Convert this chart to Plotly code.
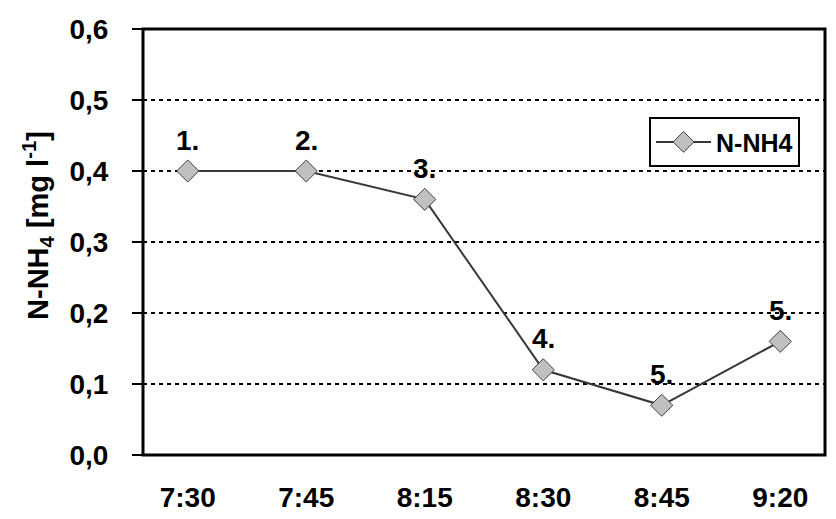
import plotly.graph_objects as go

categories = ["7:30", "7:45", "8:15", "8:30", "8:45", "9:20"]
values = [0.40, 0.40, 0.36, 0.12, 0.07, 0.16]
point_labels = ["1.", "2.", "3.", "4.", "5.", "5."]
y_ticks = [0.0, 0.1, 0.2, 0.3, 0.4, 0.5, 0.6]
y_ticklabels = ["0,0", "0,1", "0,2", "0,3", "0,4", "0,5", "0,6"]
series_name = "N-NH4"
y_title = "N-NH<sub>4</sub> [mg l<sup>-1</sup>]"

FONT = "Arial, Liberation Sans, sans-serif"

fig = go.Figure()
fig.add_trace(go.Scatter(
    x=categories, y=values, mode="lines+markers", name=series_name,
    line=dict(color="#383838", width=2),
    marker=dict(symbol="diamond", size=17, color="#c0c0c0",
                line=dict(color="#404040", width=1)),
))

for c, v, t in zip(categories, values, point_labels):
    fig.add_annotation(x=c, y=v, text=t, showarrow=False, yshift=31,
                       font=dict(family=FONT, size=28, color="black", weight="bold"))

# y-axis title (Excel places it slightly above the axis centre)
fig.add_annotation(xref="paper", yref="paper", x=-0.154, y=0.54, text=y_title,
                   textangle=-90, showarrow=False, xanchor="center", yanchor="middle",
                   font=dict(family=FONT, size=29, color="black", weight="bold"))

# plot-area border
fig.add_shape(type="rect", xref="paper", yref="paper", x0=0, x1=1, y0=0, y1=1,
              line=dict(color="black", width=3), fillcolor="rgba(0,0,0,0)", layer="above")

fig.update_layout(
    width=836, height=519,
    margin=dict(l=135, r=19, t=21, b=72),
    paper_bgcolor="white", plot_bgcolor="white",
    font=dict(family=FONT, size=25, color="black", weight="bold"),
    showlegend=True,
    legend=dict(x=0.742, y=0.793, xanchor="left", yanchor="top",
                bordercolor="black", borderwidth=2, bgcolor="white",
                font=dict(family=FONT, size=25, color="black", weight="bold"),
                itemwidth=55),
)
fig.update_xaxes(
    type="category", showline=False, automargin=False,
    showgrid=False, ticks="", ticklabelstandoff=23,
    tickfont=dict(family=FONT, size=28, color="black", weight="bold"),
)
fig.update_yaxes(
    range=[0, 0.6], tickvals=y_ticks, ticktext=y_ticklabels, automargin=False,
    showline=False,
    ticks="outside", ticklen=10, tickwidth=2, tickcolor="black",
    ticklabelstandoff=18,
    showgrid=True, gridcolor="black", gridwidth=2, griddash="4px,4px",
    zeroline=False,
    tickfont=dict(family=FONT, size=28, color="black", weight="bold"),
)

fig.write_html("out.html")
